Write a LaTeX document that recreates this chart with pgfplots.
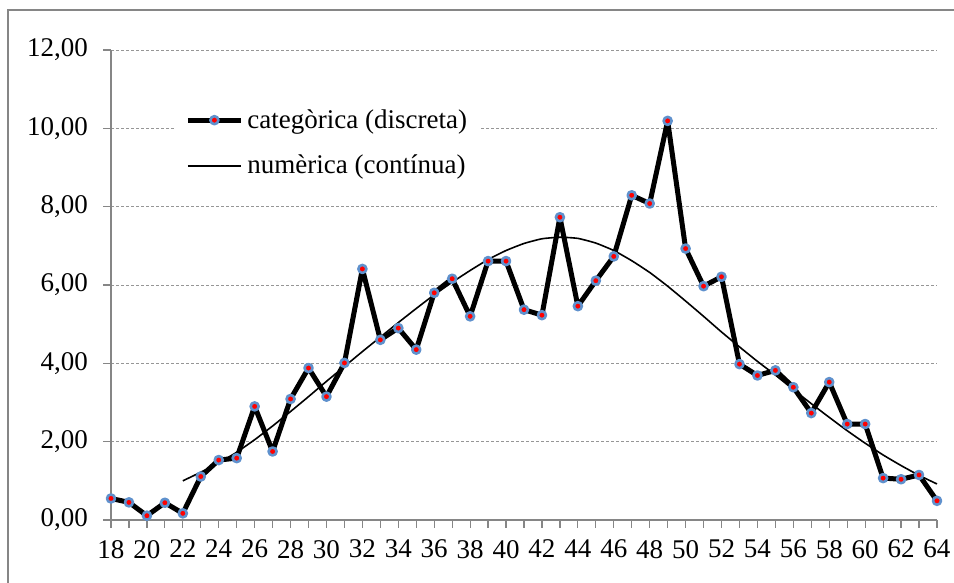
\documentclass[border=0pt]{standalone}
\usepackage{fontspec}
\setmainfont{Liberation Serif}
\usepackage{pgfplots}
\pgfplotsset{compat=1.18}
\definecolor{framegray}{RGB}{134,134,134}
\definecolor{axisgray}{RGB}{134,134,134}
\definecolor{gridgray}{RGB}{150,150,150}
\definecolor{markblue}{RGB}{95,145,205}

\pgfplotstableread{
x y
18 0.55
19 0.45
20 0.11
21 0.44
22 0.17
23 1.11
24 1.53
25 1.58
26 2.90
27 1.75
28 3.09
29 3.88
30 3.15
31 4.01
32 6.41
33 4.60
34 4.90
35 4.35
36 5.80
37 6.16
38 5.20
39 6.61
40 6.61
41 5.37
42 5.23
43 7.73
44 5.46
45 6.11
46 6.73
47 8.29
48 8.08
49 10.19
50 6.93
51 5.97
52 6.21
53 3.98
54 3.69
55 3.82
56 3.39
57 2.73
58 3.52
59 2.45
60 2.45
61 1.07
62 1.04
63 1.15
64 0.49
}\discreta

\pgfplotstableread{
x y
22 1.00
23 1.22
24 1.46
25 1.73
26 2.05
27 2.40
28 2.77
29 3.15
30 3.54
31 3.92
32 4.30
33 4.67
34 5.04
35 5.40
36 5.75
37 6.07
38 6.37
39 6.65
40 6.88
41 7.06
42 7.18
43 7.22
44 7.19
45 7.07
46 6.88
47 6.62
48 6.32
49 5.97
50 5.59
51 5.20
52 4.80
53 4.42
54 4.05
55 3.70
56 3.33
57 2.97
58 2.62
59 2.28
60 1.96
61 1.66
62 1.39
63 1.14
64 0.92
}\continua

\begin{document}
\begin{tikzpicture}
\useasboundingbox (-55.5pt,-31.5pt) rectangle (421.5pt,260pt);
% chart area frame (cut by the page on the right and bottom)
\draw[framegray, line width=1.3pt] (-51.5pt,-40pt) -- (-51.5pt,255pt) -- (430pt,255pt);
\begin{axis}[
  at={(0,0)}, anchor=south west,
  scale only axis,
  width=413pt, height=235pt,
  xmin=18, xmax=64,
  ymin=0, ymax=12,
  clip=false,
  axis lines*=left,
  axis line style={axisgray, line width=0.8pt, -},
  xtick={18,20,...,64},
  minor xtick={19,21,...,63},
  ytick={0,2,...,12},
  tick align=outside,
  major tick length=4pt,
  minor tick length=4pt,
  tick style={axisgray, line width=0.6pt},
  ymajorgrids,
  major grid style={gridgray, line width=0.4pt, dash pattern=on 1.5pt off 1pt},
  font=\fontsize{13.5}{16}\selectfont,
  /pgf/number format/assume math mode=true,
  yticklabel style={xshift=-4pt, /pgf/number format/.cd, fixed, fixed zerofill, precision=2, use comma},
  xticklabel style={yshift=-2.5pt},
  legend cell align=left,
  legend style={at={(0.0775,0.896)}, anchor=north west, draw=none, fill=white,
    font=\fontsize{13.5}{16}\selectfont, inner xsep=5pt, inner ysep=3pt, row sep=8pt},
]
\addplot[black, line width=2.5pt, line join=round, mark=*, mark size=2pt,
  mark options={draw=markblue, fill=red, line width=1.3pt},
  legend image code/.code={\draw[mark repeat=2,mark phase=2] plot coordinates {(0pt,0pt) (13.25pt,0pt) (26.5pt,0pt)};}]
  table[x=x,y=y] {\discreta};
\addlegendentry{categòrica (discreta)}
\addplot[black, line width=0.8pt, smooth, tension=0.3,
  legend image code/.code={\draw (0pt,0pt) -- (26.5pt,0pt);}]
  table[x=x,y=y] {\continua};
\addlegendentry{numèrica (contínua)}
\end{axis}
\end{tikzpicture}
\end{document}
